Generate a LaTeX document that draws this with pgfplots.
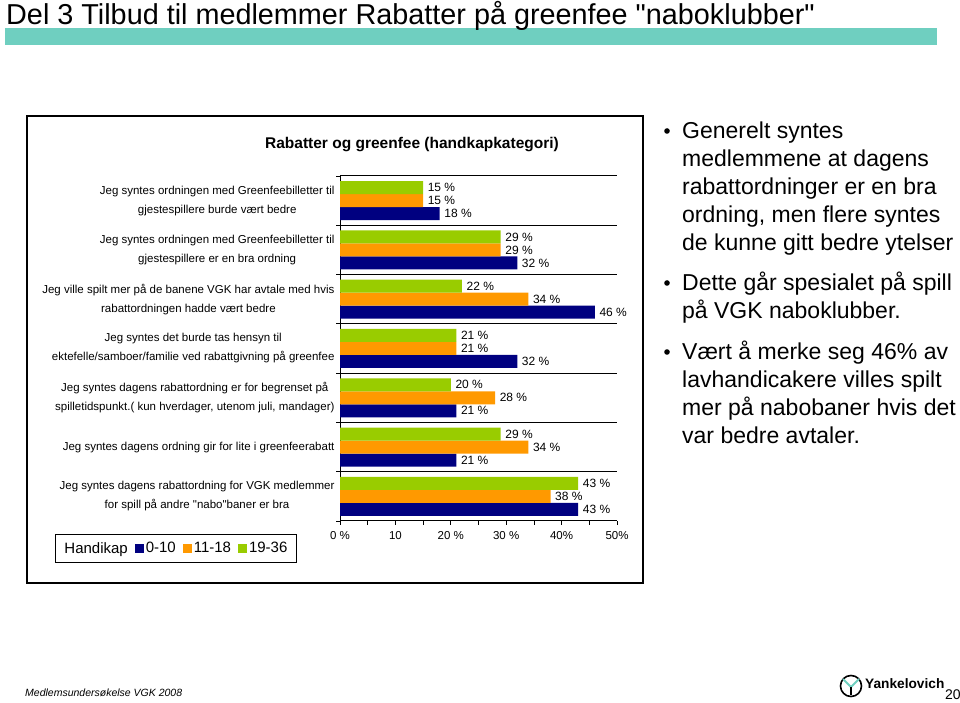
\documentclass[border=0pt]{standalone}
\usepackage{fontspec}
\setmainfont{Liberation Sans}[Ligatures=TeXOff]
\usepackage{pgfplots}
\pgfplotsset{compat=1.18}
\definecolor{cgreen}{HTML}{99CC00}
\definecolor{corange}{HTML}{FF9900}
\definecolor{cnavy}{HTML}{000080}
\definecolor{cteal}{HTML}{6FCFC0}
\begin{document}
\begin{tikzpicture}[x=1bp,y=1bp]
\path[fill=white,use as bounding box] (0,0) rectangle (960,703);
% slide header
\fill[cteal] (5,658) rectangle (937,675);
\node[anchor=base west, inner sep=0, font=\fontsize{28.8bp}{32bp}\selectfont] at (6,678) {Del 3 Tilbud til medlemmer Rabatter på greenfee "naboklubber"};
% chart frame
\draw[line width=1.2bp] (27,120) rectangle (643,587);
\node[font=\bfseries\fontsize{15.5bp}{18bp}\selectfont, anchor=base, inner sep=0] at (412,554) {Rabatter og greenfee (handkapkategori)};
\begin{axis}[
  at={(340bp,182bp)}, anchor=south west,
  width=277bp, height=345bp, scale only axis,
  xmin=0, xmax=50, ymin=-0.5, ymax=6.5,
  axis x line*=bottom, axis y line*=left,
  axis line style={-, line width=1bp},
  /pgf/number format/assume math mode=true,
  xtick={0,10,...,50},
  xticklabels={0 \%,10,20 \%,30 \%,40\%,50\%},
  minor x tick num=1,
  tick align=outside, major tick length=4bp, minor tick length=4bp,
  tick style={black, line width=0.8bp},
  ytick={-0.5,0.5,...,6.5}, yticklabels={},
  ymajorgrids, major grid style={black, line width=1bp},
  extra y ticks={0,1,2,3,4,5,6},
  extra y tick labels={
    {Jeg syntes dagens rabattordning for VGK medlemmer\\for spill på andre "nabo"baner er bra},
    {Jeg syntes dagens ordning gir for lite i greenfeerabatt},
    {Jeg syntes dagens rabattordning er for begrenset på\\spilletidspunkt.( kun hverdager, utenom juli, mandager)},
    {Jeg syntes det burde tas hensyn til\\ektefelle/samboer/familie ved rabattgivning på greenfee},
    {Jeg ville spilt mer på de banene VGK har avtale med hvis\\rabattordningen hadde vært bedre},
    {Jeg syntes ordningen med Greenfeebilletter til\\gjestespillere er en bra ordning},
    {Jeg syntes ordningen med Greenfeebilletter til\\gjestespillere burde vært bedre}},
  extra y tick style={major tick length=0pt, grid=none},
  yticklabel style={align=center, font=\fontsize{11.5bp}{19bp}\selectfont, xshift=-2bp},
  xticklabel style={font=\fontsize{11.5bp}{14bp}\selectfont, yshift=-3bp},
  xbar, bar width=13bp,
  nodes near coords={\pgfmathprintnumber{\pgfplotspointmeta} \%},
  every node near coord/.append style={font=\fontsize{12bp}{14bp}\selectfont, black, inner sep=1bp, xshift=3.5bp},
  legend image code/.code={\draw[#1,draw=none] (0bp,-4.5bp) rectangle (9bp,4.5bp);},
  legend style={at={(-1.029,-0.122)}, anchor=south west, legend columns=-1,
    draw=black, line width=1bp, font=\fontsize{15bp}{17bp}\selectfont,
    inner xsep=7bp, inner ysep=6bp,
    /tikz/every even column/.append style={column sep=5bp}},
]
\addlegendimage{empty legend}
\addlegendentry{Handikap}
\addplot[fill=cnavy, draw=none, bar shift=-13bp] coordinates {(43,0) (21,1) (21,2) (32,3) (46,4) (32,5) (18,6)};
\addlegendentry{0-10}
\addplot[fill=corange, draw=none, bar shift=0bp] coordinates {(38,0) (34,1) (28,2) (21,3) (34,4) (29,5) (15,6)};
\addlegendentry{11-18}
\addplot[fill=cgreen, draw=none, bar shift=13bp] coordinates {(43,0) (29,1) (20,2) (21,3) (22,4) (29,5) (15,6)};
\addlegendentry{19-36}
\end{axis}
% right-hand text
\begin{scope}[every node/.style={anchor=base west, inner sep=0, font=\fontsize{23bp}{28bp}\selectfont}]
\node at (682,564) {Generelt syntes};
\node at (682,536) {medlemmene at dagens};
\node at (682,508) {rabattordninger er en bra};
\node at (682,480) {ordning, men flere syntes};
\node at (682,452) {de kunne gitt bedre ytelser};
\node at (682,412) {Dette går spesialet på spill};
\node at (682,384) {på VGK naboklubber.};
\node at (682,343) {Vært å merke seg 46\% av};
\node at (682,315) {lavhandicakere villes spilt};
\node at (682,287) {mer på nabobaner hvis det};
\node at (682,259) {var bedre avtaler.};
\end{scope}
\fill (667,572) circle (2.8);
\fill (667,420) circle (2.8);
\fill (667,351) circle (2.8);
% footer
\node[anchor=base west, inner sep=0, font=\itshape\fontsize{10.5bp}{12bp}\selectfont] at (25,6) {Medlemsundersøkelse VGK 2008};
\draw[line width=1.6bp] (851,17) circle (10.5);
\draw[cteal, line width=2bp] (843,24) -- (851,16) -- (859,24);
\draw[line width=2bp] (851,16) -- (851,8);
\node[anchor=base west, inner sep=0, font=\bfseries\fontsize{13.7bp}{16bp}\selectfont] at (865,14) {Yankelovich};
\node[anchor=base west, inner sep=0, font=\fontsize{14bp}{16bp}\selectfont] at (945,3) {20};
\end{tikzpicture}
\end{document}
